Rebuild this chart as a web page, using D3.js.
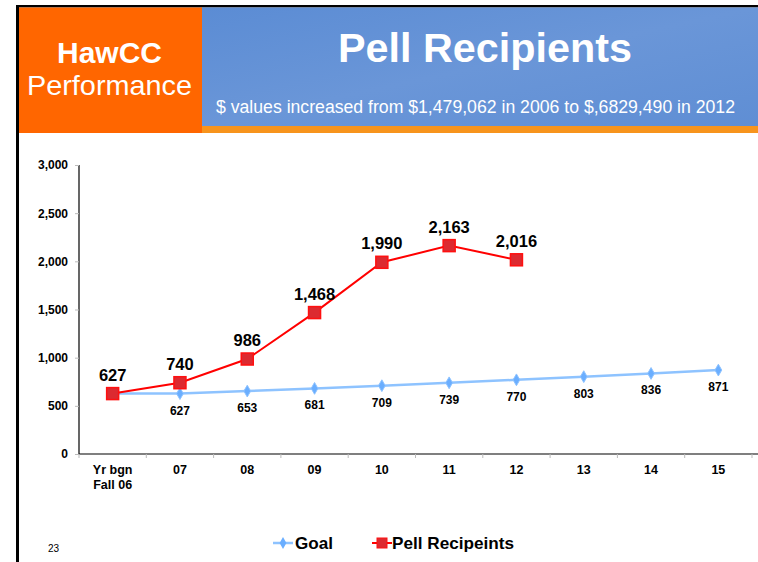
<!DOCTYPE html>
<html><head><meta charset="utf-8">
<script src="https://cdn.jsdelivr.net/npm/d3@7"></script>
<style>body{margin:0;background:#fff;}svg{display:block;font-family:Arial,"Liberation Sans",sans-serif;}</style>
</head><body>
<svg id="c" width="758" height="562"></svg>
<script>
const categories = [["Yr bgn","Fall 06"],["07"],["08"],["09"],["10"],["11"],["12"],["13"],["14"],["15"]];
const goalValues = [627,627,653,681,709,739,770,803,836,871];
const pellValues = [627,740,986,1468,1990,2163,2016];
const yTicks = [0,500,1000,1500,2000,2500,3000];
const seriesNames = ["Goal","Pell Recipeints"];

const svg = d3.select("#c");
// frame
svg.append("rect").attr("x",16).attr("y",5).attr("width",742).attr("height",2.5).attr("fill","#000");
svg.append("rect").attr("x",16).attr("y",5).attr("width",3).attr("height",557).attr("fill","#000");
// header
svg.append("rect").attr("x",19).attr("y",7.5).attr("width",183).attr("height",125.5).attr("fill","#FF6600");
const grad = svg.append("defs").append("linearGradient").attr("id","bg").attr("x1",0).attr("x2",1).attr("y1",0).attr("y2",1);
grad.append("stop").attr("offset","0").attr("stop-color","#5B8CD4");
grad.append("stop").attr("offset","0.5").attr("stop-color","#6A96D8");
grad.append("stop").attr("offset","1").attr("stop-color","#5F8ED4");
svg.append("rect").attr("x",202).attr("y",7.5).attr("width",556).attr("height",119).attr("fill","url(#bg)");
svg.append("rect").attr("x",202).attr("y",126).attr("width",556).attr("height",7).attr("fill","#F7941D");
svg.append("text").attr("x",109.5).attr("y",63).attr("text-anchor","middle").attr("fill","#fff")
  .attr("font-size",29).attr("font-weight","bold").attr("textLength",105).attr("lengthAdjust","spacingAndGlyphs").text("HawCC");
svg.append("text").attr("x",109.5).attr("y",95).attr("text-anchor","middle").attr("fill","#fff")
  .attr("font-size",28.5).attr("textLength",165).attr("lengthAdjust","spacingAndGlyphs").text("Performance");
svg.append("text").attr("x",485).attr("y",62).attr("text-anchor","middle").attr("fill","#fff")
  .attr("font-size",41).attr("font-weight","bold").attr("textLength",294).attr("lengthAdjust","spacingAndGlyphs").text("Pell Recipients");
svg.append("text").attr("x",475.5).attr("y",113).attr("text-anchor","middle").attr("fill","#fff")
  .attr("font-size",17.5).attr("textLength",519).attr("lengthAdjust","spacingAndGlyphs")
  .text("$ values increased from $1,479,062 in 2006 to $,6829,490 in 2012");

// chart
const x0 = 79, x1 = 752, yTop = 165, yBot = 454;
const x = d3.scaleBand().domain(d3.range(categories.length)).range([x0,x1]);
const y = d3.scaleLinear().domain([0,3000]).range([yBot,yTop]);
const cx = i => x(i) + x.bandwidth()/2;

const yAxis = svg.append("g").attr("transform",`translate(${x0},0)`)
  .call(d3.axisLeft(y).tickValues(yTicks).tickFormat(d3.format(",")).tickSize(4).tickPadding(7));
yAxis.select(".domain").attr("stroke","#000").attr("stroke-width",1.2).attr("d",`M0,${yTop}V${yBot}`);
yAxis.selectAll(".tick line").attr("stroke","#bbb");
yAxis.selectAll("text").attr("font-size",12).attr("font-weight","bold").attr("fill","#000").attr("font-family","Arial,'Liberation Sans',sans-serif");

const xAxis = svg.append("g").attr("transform",`translate(0,${yBot})`);
xAxis.append("line").attr("x1",x0).attr("x2",x1+6).attr("stroke","#000").attr("stroke-width",1.2);
xAxis.selectAll("line.t").data(d3.range(categories.length+1)).enter().append("line")
  .attr("x1",i=>x0+i*x.bandwidth()).attr("x2",i=>x0+i*x.bandwidth()).attr("y1",0).attr("y2",4).attr("stroke","#bbb");
const xl = xAxis.selectAll("text.c").data(categories).enter().append("text")
  .attr("x",(d,i)=>cx(i)).attr("y",20).attr("text-anchor","middle").attr("font-size",12.5).attr("font-weight","bold").attr("fill","#000");
xl.each(function(d){
  const t=d3.select(this);
  d.forEach((s,k)=>t.append("tspan").attr("x",t.attr("x")).attr("dy",k?15:0).text(s));
});

const line = d3.line().x((d,i)=>cx(i)).y(d=>y(d));
// goal
svg.append("path").datum(goalValues).attr("d",line).attr("fill","none").attr("stroke","#8EC3FF").attr("stroke-width",2.5);
svg.selectAll("path.gd").data(goalValues).enter().append("path")
  .attr("d",d3.symbol().type(d3.symbolDiamond).size(40))
  .attr("transform",(d,i)=>`translate(${cx(i)},${y(d)})`).attr("fill","#6AAEFF").attr("stroke","#8EC3FF");
svg.selectAll("text.gl").data(goalValues).enter().filter((d,i)=>i>0).append("text")
  .attr("x",(d,i)=>cx(i+1)).attr("y",d=>y(d)+21)
  .attr("text-anchor","middle").attr("font-size",12).attr("font-weight","bold").attr("fill","#000").text(d=>d);
// pell
svg.append("path").datum(pellValues).attr("d",line).attr("fill","none").attr("stroke","#FF0000").attr("stroke-width",2);
svg.selectAll("rect.pm").data(pellValues).enter().append("rect")
  .attr("x",(d,i)=>cx(i)-6).attr("y",d=>y(d)-6).attr("width",12).attr("height",12)
  .attr("fill","#DC2A30").attr("stroke","#FF1010").attr("stroke-width",1.5);
svg.selectAll("text.pl").data(pellValues).enter().append("text")
  .attr("x",(d,i)=>cx(i)).attr("y",d=>y(d)-13).attr("text-anchor","middle")
  .attr("font-size",16.5).attr("font-weight","bold").attr("fill","#000").text(d3.format(","));

// legend
const lg = svg.append("g");
lg.append("line").attr("x1",273).attr("x2",293).attr("y1",543).attr("y2",543).attr("stroke","#8EC3FF").attr("stroke-width",2.5);
lg.append("path").attr("d",d3.symbol().type(d3.symbolDiamond).size(40)).attr("transform","translate(283,543)").attr("fill","#6AAEFF");
lg.append("text").attr("x",295).attr("y",549).attr("font-size",16.5).attr("font-weight","bold")
  .attr("textLength",38).attr("lengthAdjust","spacingAndGlyphs").text(seriesNames[0]);
lg.append("line").attr("x1",372).attr("x2",392).attr("y1",543).attr("y2",543).attr("stroke","#FF0000").attr("stroke-width",2);
lg.append("rect").attr("x",377).attr("y",538).attr("width",10).attr("height",10).attr("fill","#DC2A30").attr("stroke","#FF1010");
lg.append("text").attr("x",392).attr("y",549).attr("font-size",16.5).attr("font-weight","bold")
  .attr("textLength",122).attr("lengthAdjust","spacingAndGlyphs").text(seriesNames[1]);
svg.append("text").attr("x",48).attr("y",552).attr("font-size",10).attr("fill","#000").text("23");
</script>
</body></html>
